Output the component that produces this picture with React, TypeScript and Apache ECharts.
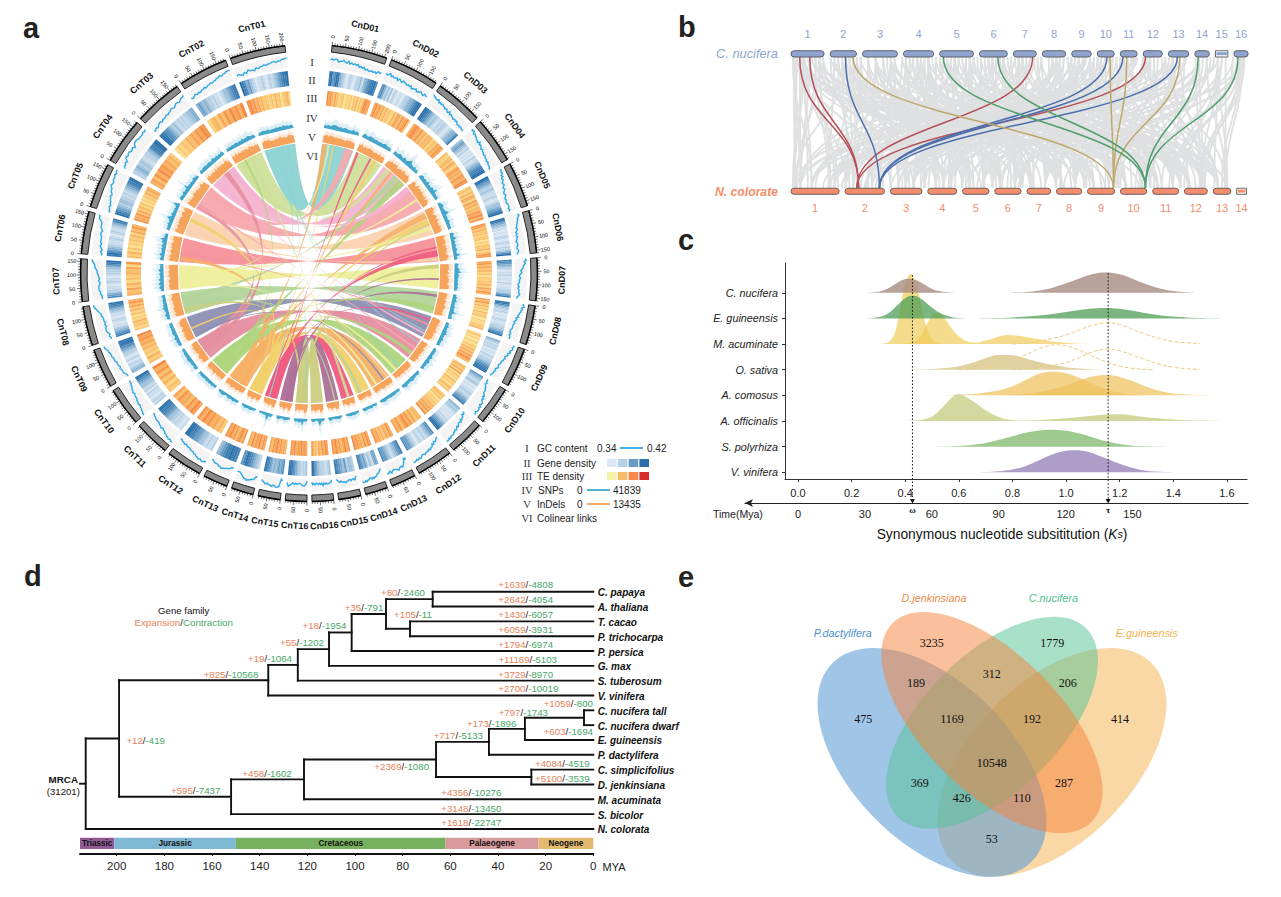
import React, { useEffect, useRef } from 'react';
import * as echarts from 'echarts';

const SANS = '"Liberation Sans", Arial, sans-serif';
const SERIF = '"Liberation Serif", serif';

// ---------- panel a data ----------
const chromLengths = [209, 187, 182, 173, 169, 160, 160, 148, 148, 145, 133, 136, 93, 84, 84, 81];
const geneD = ['8967985432123212334245678897','6753424132122123345567899','9987654343223233212345568','4565432312121322345678899','9976543343222321234456789','9865432212123212321323579','8765432122312213212233468','9875432321212321223345679','5432323212213223345678899','6543234212122332345678','5434321212123234567899','7654323223212345667','8765432345667','5652342465678','3443645678','432233345689'];
const geneT = ['9875643212232123234567889','5654543323221234456788','9987765434323232334455','3345434322334578899','9876543443323234567889','8976543222321232234578','7653322123221233345789','8765432212321223456789','4543232132123345678999','3232122313234456789','2212232334456778899','3223234456678899','7889887654','2345678976','7656545456789','4332334567899'];
const teD = ['9786575434523435254635368977','7968574645336477586794','6897685746563547687','5435647536867587698','4536476385746587968','8756453452435463587','6857463524354637586','7584635263541423546','3524143253647586975','5647382534263524635','4635243546576859','5647586975867','6857465768','7968576879','8697586978','7968573658'];
const teT = ['8978675645435364524563','3564758697869','2435465768798','6758697867564','8768574635243546576','5463524354637586','6574635465738','4354634253647586','5463546576879','4536475869','7968576857','4657687968','8697586978','7869786957','5768697857','6879786978'];
const gcD = ['676775667657565656454534334343545','656756556465465545453445344543544','988778676766565464544343432323222','989787766575654544343332322211','99897867656545433432322333232','8987766554543434332333223322','8978766545433433322323334322','8897877665645434333322232333','9989878676565544433432322211','1112123344456576788798999899','1121334354456567677888898999','1123243556566676678787888','1213567667877666786778','12344566767667787887','1243343344544434321','1334434353434334342'];
const gcT = ['23213243324344545566566778','32343434454556566778788999','22323443444545566567767889','4556578788778689998888989','1223233445456678778889899','1121232333344345556889','1112233322323344566789','1121233323233344567899','1123334344455566677899','9988776766555454433222','9989887766565544443322','7788787766555444343322','223445565544432','3356677877654333','217887787767654','145543343434563'];
const snpD = ['43434554343443335343','35434544343343454343','44345434534684435343','34534436343554834343','34553445843434534343','45347344353454348343','54346483544343443534','43544634345354834353','34353435463434534343','33434334533454343343','33433343544334345434','33334343334433','332433343','233434332','234332343','334932343'];
const snpT = ['33443433334343534343','43434344343534454343','34344434433543434353','34433534383434335434','43435345843534343483','45346343535436483434','43553643634353463435','34354334463534343343','34344354334443434343','34433434354434343333','33334334334333434334','33343343234433','233433432','243933323','233432343','333835343'];
const indelD = ['77868776767665767665','76857667766566575665','66786878567769676855','78857968778676858765','88978578869768697886','99789896979879689978','98989789697989879998','88979698878998787887','78887968778967878766','67766586767576685766','56675766567565666465','5665755666456566','5665465665','4765576547','5786576564','6795668567'];
const indelT = ['77878665767867668877','78696877878769786877','87968786969787878967','89797868987978689778','89978979898978997898','99899789979899879898','98999899879989988998','88979889787978898787','77887978688767878765','66766877566767686665','66665766568666576665','6566567566756566','5664675664','5875675654','4785586564','6895657568'];

const romanLabels = ['I', 'II', 'III', 'IV', 'V', 'VI'];
const genePalette = ['#e9f0f7','#dbe7f2','#c9dcec','#b5cfe4','#9dc0db','#83afd1','#669cc5','#4e8bbb','#3b7cb1','#2a6fab'];
const tePalette = ['#f8f3b2','#f9eca0','#fae08f','#fad681','#f9cb76','#f9c06c','#f8b262','#f7a558','#f6974e','#f38a45'];
const linkColors = ['#8dd3d3','#cfe09b','#f5b3d1','#f7a8ae','#fbd2b0','#f6919b','#eef09c','#b2d59b','#8f8fb3','#e58ea0','#aed57d','#f6b066','#f1d06a','#ef5b7f','#ad6f97','#cbcd7e'];
const extraLinks: [string, number, number, string, number, number][] = [
  ['T12',90,125,'D01',0,30],['T07',60,74,'D01',38,50],['T13',30,44,'D01',70,80],['T04',110,165,'D01',150,205],
  ['T14',10,24,'D02',5,20],['T02',20,50,'D03',20,50],['T11',60,105,'D03',130,178],['T08',95,125,'D03',90,125],
  ['T03',140,178,'D04',0,38],['T12',70,110,'D05',15,55],['T13',50,80,'D05',60,90],['T07',120,140,'D05',110,135],
  ['T14',40,56,'D06',60,72],['T05',20,50,'D06',130,155],['T14',60,82,'D06',85,125],['T16',20,50,'D07',0,25],
  ['T15',30,48,'D08',20,36],['T10',50,95,'T03',100,135],['T10',100,135,'T04',10,40],['T11',95,125,'D08',100,135],
  ['T01',5,13,'D09',100,108],['T01',60,68,'D10',20,28],['T01',90,97,'D11',60,67],['T01',120,128,'T14',50,58],
  ['T01',150,157,'T16',10,17],['T12',20,55,'T06',10,35],['T13',10,32,'T05',95,120],['T07',10,24,'D11',85,102],
  ['T07',30,44,'D12',95,110],['T08',40,62,'D13',55,75],['T11',30,52,'D10',95,120],['T02',100,122,'D14',25,45],
  ['T06',50,64,'D09',50,64],['T09',10,22,'D12',40,52],['T14',70,80,'D02',100,112],['T16',50,70,'T08',15,35],
  ['T03',30,44,'D09',115,130],['T15',10,22,'D07',90,102],['T13',60,78,'D02',130,150],['T12',30,48,'D03',55,72],
  ['T07',100,116,'D04',100,116],['T14',20,34,'D09',20,32],['T16',10,20,'D05',90,102],['T11',10,24,'T02',60,74],
  ['T04',20,34,'D10',60,74],['T05',60,72,'D12',10,22],['T08',70,82,'D15',20,30],['T13',70,82,'T09',60,72],
];

// ---------- panel b data (positions along the strip) ----------
const topChromLen = [88, 70, 93, 80, 90, 74, 61, 62, 52, 45, 45, 51, 54, 39, 33, 38];
const botChromLen = [128, 105, 84, 77, 70, 70, 63, 67, 72, 70, 69, 61, 47, 26];
const grayFans: number[][] = [
  [320, 305, 318, 345, 360, 620, 700, 1080], [350, 300, 330, 845, 930, 1010, 1215], [395, 360, 410, 1120, 1190, 1290, 1380, 1430],
  [460, 420, 450, 480, 520, 560, 640, 910], [495, 720, 860, 1000, 1075, 1150], [530, 1130, 1200, 1250, 1330, 440, 600, 1040],
  [580, 500, 540, 570, 610, 650, 1240], [620, 700, 770, 830, 900, 1050, 1180, 1345],
  [680, 330, 420, 550, 600, 640, 680, 1010], [715, 710, 760, 850, 960, 1070, 1150, 1290],
  [770, 360, 450, 540, 620, 720, 1160], [805, 770, 800, 880, 990, 1100, 1300, 1420],
  [855, 340, 470, 560, 660, 760, 1205], [890, 810, 860, 900, 1020, 1110, 1340, 1470],
  [935, 380, 500, 600, 730, 820, 1120], [970, 900, 950, 1000, 1060, 1240, 1380, 1500],
  [1015, 310, 440, 520, 640, 750, 880], [1050, 860, 960, 1010, 1050, 1170, 1290, 1440],
  [1100, 300, 410, 570, 670, 780, 950], [1140, 890, 1000, 1090, 1130, 1270, 1320, 1410],
  [1185, 350, 480, 610, 710, 850, 1030], [1225, 940, 1070, 1160, 1200, 1310, 1390, 1480],
  [1270, 320, 430, 590, 690, 800, 1000], [1310, 920, 1040, 1180, 1260, 1340, 1440, 1490],
  [1355, 370, 520, 630, 740, 870, 990], [1385, 1030, 1110, 1230, 1330, 1370, 1430, 1500],
  [1430, 400, 560, 780, 900, 1060, 1240], [1450, 1290, 1400, 1450, 1495, 700],
  [305, 302, 310, 325, 440, 890], [410, 370, 460, 760, 1040, 1250], [440, 330, 500, 820, 1100],
  [510, 400, 470, 590, 930, 1310], [600, 380, 480, 660, 990, 1210], [650, 420, 600, 740, 1020],
  [700, 500, 650, 780, 940, 1180], [750, 450, 630, 800, 1060], [830, 520, 690, 840, 1110],
  [905, 560, 710, 920, 1230], [1000, 600, 790, 980, 1150], [1075, 640, 820, 1040, 1380],
  [1165, 680, 870, 1100, 1260], [1250, 730, 910, 1140, 1400], [1330, 770, 960, 1200, 1470], [1395, 830, 1000, 1280, 1490],
];
const grayFansTop: number[][] = [
  [330, 300, 340, 420, 560, 800, 1100], [370, 310, 400, 620, 890, 1220], [430, 450, 540, 700, 1000], [460, 470, 610, 850, 1130],
  [520, 500, 600, 780, 1050], [560, 560, 690, 930, 1270], [630, 440, 640, 810, 1090], [660, 680, 760, 960, 1330],
  [730, 360, 590, 780, 1160], [770, 750, 840, 1040, 1390], [830, 400, 660, 880, 1230], [860, 830, 910, 1120, 1350],
  [910, 480, 730, 940, 1310], [1000, 350, 620, 870, 1140], [1060, 520, 790, 1010, 1280], [1090, 430, 700, 1080, 1370],
  [1130, 310, 580, 910, 1200], [1190, 640, 850, 1130, 1430], [1250, 380, 720, 1050, 1260], [1310, 490, 830, 1170, 1350],
  [1380, 560, 900, 1210, 1390], [1430, 1280, 1340, 1420, 1455], [1490, 760, 1020, 1300, 1380, 1440],
];
const redLinks = [[318, 475], [345, 475], [937, 470], [1237, 470]];
const blueLinks = [[440, 530], [1135, 530], [1177, 530], [1322, 530]];
const tanLinks = [[460, 1152], [1143, 1152], [1187, 1152], [1328, 1152]];
const greenLinks = [[700, 1237], [845, 1237], [1377, 1237], [1483, 1237]];

// ---------- panel c data ----------
const ridgeNames = ['V. vinifera', 'S. polyrhiza', 'A. officinalis', 'A. comosus', 'O. sativa', 'M. acuminate', 'E. guineensis', 'C. nucifera'];
const ksTicks = [0, 0.2, 0.4, 0.6, 0.8, 1.0, 1.2, 1.4, 1.6];
const myaTicks = [0, 30, 60, 90, 120, 150];
const nuc1 = [[.25,0],[.29,.03],[.32,.1],[.35,.25],[.38,.45],[.41,.55],[.44,.5],[.47,.33],[.5,.15],[.53,.06],[.56,.02],[.59,0]];
const nuc2 = [[.8,.01],[.85,.03],[.9,.09],[.95,.2],[1,.37],[1.05,.56],[1.1,.73],[1.15,.79],[1.2,.72],[1.25,.54],[1.3,.33],[1.35,.17],[1.4,.07],[1.45,.02],[1.5,0]];
const gui1 = [[.25,0],[.28,.02],[.31,.07],[.34,.22],[.37,.5],[.4,.79],[.43,.88],[.46,.76],[.49,.5],[.52,.27],[.55,.12],[.58,.04],[.61,.01],[.64,0]];
const gui2 = [[.65,0],[.7,.01],[.75,.02],[.8,.04],[.85,.07],[.9,.11],[.95,.17],[1,.25],[1.05,.33],[1.1,.39],[1.15,.41],[1.2,.38],[1.25,.3],[1.3,.2],[1.35,.12],[1.4,.07],[1.45,.04],[1.5,.02],[1.55,.01],[1.6,0]];
const aca1 = [[.28,0],[.32,.02],[.34,.1],[.36,.4],[.38,1.3],[.4,2.35],[.42,2.73],[.44,2.4],[.46,1.5],[.48,.65],[.5,.2],[.52,.05],[.54,.01],[.56,0]];
const aca2 = [[.38,0],[.42,.05],[.44,.15],[.46,.35],[.48,.75],[.5,1.1],[.52,1.23],[.54,1.1],[.56,.8],[.58,.52],[.6,.3],[.62,.15],[.64,.08],[.66,.06],[.7,.14],[.74,.27],[.78,.35],[.82,.32],[.86,.26],[.9,.19],[.94,.12],[.98,.07],[1.02,.03],[1.06,.01],[1.1,0]];
const aca3 = [[.8,0],[.85,.04],[.9,.12],[.95,.22],[1,.36],[1.05,.55],[1.1,.74],[1.155,.83],[1.2,.76],[1.25,.57],[1.3,.37],[1.35,.21],[1.4,.1],[1.45,.05],[1.5,.02]];
const osa1 = [[.4,0],[.45,.01],[.5,.03],[.55,.07],[.6,.14],[.65,.27],[.7,.45],[.75,.57],[.8,.56],[.85,.44],[.9,.3],[.95,.19],[1,.1],[1.05,.05],[1.1,.02],[1.15,0]];
const osa2 = [[.6,0],[.65,.02],[.7,.07],[.75,.17],[.8,.33],[.85,.58],[.9,.82],[.96,.97],[1,.93],[1.05,.76],[1.1,.52],[1.15,.3],[1.2,.14],[1.25,.05],[1.3,.01],[1.33,0]];
const osa3 = [[.8,0],[.85,.03],[.9,.08],[.95,.16],[1,.28],[1.05,.48],[1.1,.7],[1.155,.8],[1.2,.74],[1.25,.56],[1.3,.38],[1.35,.21],[1.4,.1],[1.45,.04],[1.5,.01]];
const com1 = [[.52,0],[.6,.02],[.65,.05],[.7,.11],[.75,.2],[.8,.36],[.85,.6],[.9,.84],[.95,.92],[1,.86],[1.05,.68],[1.1,.44],[1.15,.24],[1.2,.1],[1.25,.03],[1.3,0]];
const com2 = [[.75,0],[.8,.02],[.85,.06],[.9,.13],[.95,.24],[1,.39],[1.05,.58],[1.1,.74],[1.15,.79],[1.2,.72],[1.25,.55],[1.3,.34],[1.35,.17],[1.4,.07],[1.45,.03],[1.5,.01],[1.58,0]];
const off1 = [[.38,0],[.42,.01],[.46,.05],[.5,.18],[.54,.55],[.58,.97],[.6,1.04],[.62,.98],[.66,.72],[.7,.42],[.74,.2],[.78,.07],[.82,.02],[.86,0]];
const off2 = [[.8,0],[.85,.02],[.9,.04],[.95,.07],[1,.11],[1.05,.16],[1.1,.21],[1.15,.25],[1.2,.26],[1.25,.22],[1.3,.15],[1.35,.1],[1.4,.06],[1.45,.03],[1.5,.02],[1.6,0]];
const spo1 = [[.47,0],[.55,.01],[.6,.03],[.65,.07],[.7,.14],[.75,.27],[.8,.41],[.85,.54],[.9,.63],[.94,.66],[1,.62],[1.05,.51],[1.1,.36],[1.15,.21],[1.2,.1],[1.25,.04],[1.3,.02],[1.4,0]];
const vin1 = [[.63,0],[.7,.01],[.75,.04],[.8,.11],[.85,.25],[.9,.47],[.95,.7],[1,.84],[1.03,.86],[1.08,.8],[1.12,.66],[1.16,.5],[1.2,.33],[1.25,.17],[1.3,.06],[1.35,.02],[1.43,0]];
const omegaKs = 0.427;
const tauKs = 1.157;

// ---------- panel d data ----------
const speciesTree: any = [213,
  [199,
    [136.4, [124, [110.9, [101.4, [87, [67.4, 'C. papaya', 'A. thaliana'], [76.9, 'T. cacao', 'P. trichocarpa']], 'P. persica'], 'G. max'], 'S. tuberosum'], 'V. vinifera'],
    [152, [121.4, [66, [43.8, [28.7, [3.9, 'C. nucifera tall', 'C. nucifera dwarf'], 'E. guineensis'], 'P. dactylifera'], [26, 'C. simplicifolius', 'D. jenkinsiana']], 'M. acuminata'], 'S. bicolor']],
  'N. colorata'];
const eraNames = ['Triassic', 'Jurassic', 'Cretaceous', 'Palaeogene', 'Neogene'];
const eraBounds = [215.4, 201, 150, 62, 23, 0];
const eraColors = ['#925b96', '#7fb8d2', '#77b15f', '#d89a9c', '#e2b96d'];
const myaAxisTicks = [0, 20, 40, 60, 80, 100, 120, 140, 160, 180, 200];
const familyLabels: [string, string, number, number][] = [
  ['+1639','-4808',525.7,584.3],['+2642','-4054',525.7,599.7],['+1430','-6057',525.7,614.7],['+6059','-3931',525.7,629.7],
  ['+1794','-6974',525.7,644.7],['+11169','-5103',527.7,659.7],['+3729','-8970',525.7,674.7],['+2700','-10019',528.3,688.7],
  ['+1059','-800',568.3,703.7],['+797','-1743',523.3,712.7],['+173','-1896',491.7,723.7],['+603','-1694',568.3,731.7],
  ['+717','-5133',458.3,735.7],['+2369','-1080',401.7,766.3],['+4084','-4519',562.3,763.7],['+5100','-3539',562.3,778.3],
  ['+4356','-10276',471.3,792.7],['+3148','-13450',471.3,808],['+1618','-22747',471.3,822.7],['+80','-2460',403,592.7],
  ['+35','-791',364,607.7],['+105','-11',413,614.7],['+18','-1954',324.5,625.7],['+55','-1202',302,642.7],
  ['+19','-1064',270,658.7],['+825','-10568',231,674.7],['+12','-419',145.7,740.7],['+458','-1602',267,773.7],['+595','-7437',195.7,790],
];

// ---------- panel e data ----------
const vennSets = [
  { name: 'P.dactylifera', color: '#5b9bd5', cx: 426, cy: 562, a: 422, b: 240, rot: 45, op: 0.58 },
  { name: 'D.jenkinsiana', color: '#f5813a', cx: 606, cy: 443, a: 422, b: 205, rot: 45, op: 0.5 },
  { name: 'C.nucifera', color: '#53c196', cx: 606, cy: 443, a: 400, b: 205, rot: -45, op: 0.5 },
  { name: 'E.guineensis', color: '#f6b24e', cx: 786, cy: 562, a: 422, b: 240, rot: -45, op: 0.5 },
];
const vennDrawOrder = [3, 0, 2, 1];
const vennCounts: [string, number, number][] = [
  ['3235',931.7,642.7],['1779',1052.3,642.7],['189',916,682.7],['312',991.7,674.3],['206',1067.7,682.7],['475',863.3,718.7],
  ['1169',952,718.7],['192',1032,718.7],['414',1120,718.7],['10548',991.7,762.7],['369',919.7,782.7],['287',1064,782.7],
  ['426',961.7,798.3],['110',1022,798.3],['53',991.7,838.7],
];

// ---------- layout helpers ----------
const K = 0.0675, START = 5.8, GAP = 1.25;
type Chrom = { name: string; len: number; a0: number; a1: number; gene: string; te: string; gc: string; snp: string; indel: string };
const pad = (i: number) => String(i + 1).padStart(2, '0');
const circleOrder: Chrom[] = (() => {
  const out: Chrom[] = [];
  let a = START;
  const push = (name: string, len: number, gene: string, te: string, gc: string, snp: string, indel: string) => {
    out.push({ name, len, a0: a, a1: a + len * K, gene, te, gc, snp, indel });
    a += len * K + GAP;
  };
  chromLengths.forEach((l, i) => push('CnD' + pad(i), l, geneD[i], teD[i], gcD[i], snpD[i], indelD[i]));
  for (let i = 15; i >= 0; i--) push('CnT' + pad(i), chromLengths[i], geneT[i], teT[i], gcT[i], snpT[i], indelT[i]);
  return out;
})();
const findChrom = (s: string) => circleOrder.find((c) => c.name === 'Cn' + s) as Chrom;
const rad = (a: number) => ((a - 90) * Math.PI) / 180;

function custom(axes: any, rows: any[], draw: (row: any, api: any) => any, extra: any = {}) {
  return {
    type: 'custom', silent: true, ...axes, z: 2, ...extra,
    data: rows.map((_, i) => [i, 0]),
    renderItem: (params: any, api: any) => draw(rows[params.dataIndex], api),
  };
}
const POLAR = { coordinateSystem: 'polar', polarIndex: 0 };
const cart = (i: number) => ({ coordinateSystem: 'cartesian2d', xAxisIndex: i, yAxisIndex: i });

function sector(api: any, r0: number, r1: number, a0: number, a1: number, style: any) {
  const c = api.coord([r1, 0]);
  const c0 = api.coord([r0, 0]);
  const o = api.coord([0, 0]);
  return {
    type: 'sector',
    shape: { cx: o[0], cy: o[1], r: c[2], r0: c0[2], startAngle: rad(a0), endAngle: rad(a1), clockwise: true },
    style,
  };
}
function txt(x: number, y: number, rotation: number, text: string, s: any) {
  return {
    type: 'text', x, y, rotation,
    style: { text, x: 0, y: 0, fontFamily: SANS, align: 'center', verticalAlign: 'middle', textAlign: 'center', textVerticalAlign: 'middle', fill: '#111', ...s },
  };
}

function heatSeries(field: 'gene' | 'te', palette: string[], r0: number, r1: number) {
  const rows: any[] = [];
  circleOrder.forEach((c) => {
    const n = c[field].length;
    for (let i = 0; i < n; i++) rows.push({ c, i, n, d: +c[field][i] });
  });
  return custom(POLAR, rows, (row, api) => {
    const span = row.c.a1 - row.c.a0;
    const a0 = row.c.a0 + (span * row.i) / row.n;
    const a1 = row.c.a0 + (span * (row.i + 1)) / row.n + (row.i < row.n - 1 ? 0.04 : 0);
    return sector(api, r0, r1, a0, a1, { fill: palette[row.d] });
  });
}
function profileSeries(field: 'snp' | 'indel', r0: number, solidK: number, paleK: number, color: string, paleOp: number) {
  return custom(POLAR, circleOrder, (c: Chrom, api) => {
    const s: string = c[field];
    const span = c.a1 - c.a0;
    const build = (k: number) => {
      const pts: number[][] = [api.coord([r0, c.a0]).slice(0, 2)];
      for (let i = 0; i < s.length; i++) pts.push(api.coord([r0 + +s[i] * k, c.a0 + (span * (i + 0.5)) / s.length]).slice(0, 2));
      pts.push(api.coord([r0, c.a1]).slice(0, 2));
      return pts;
    };
    return {
      type: 'group',
      children: [
        { type: 'polygon', shape: { points: build(paleK) }, style: { fill: color, opacity: paleOp } },
        { type: 'polygon', shape: { points: build(solidK) }, style: { fill: color } },
      ],
    };
  });
}
function ribbonPath(api: any, r: number, a0: number, a1: number, b0: number, b1: number) {
  const p = (a: number) => api.coord([r, a]);
  const o = api.coord([0, 0]);
  const pr = p(a0)[2];
  const f = (q: number[]) => q[0].toFixed(1) + ' ' + q[1].toFixed(1);
  const large = (x: number, y: number) => (Math.abs(y - x) > 180 ? 1 : 0);
  return (
    'M' + f(p(a0)) + ' A' + pr + ' ' + pr + ' 0 ' + large(a0, a1) + ' 1 ' + f(p(a1)) +
    ' Q' + f(o) + ' ' + f(p(b1)) + ' A' + pr + ' ' + pr + ' 0 ' + large(b0, b1) + ' 0 ' + f(p(b0)) +
    ' Q' + f(o) + ' ' + f(p(a0)) + ' Z'
  );
}

function buildOption() {
  const series: any[] = [];

  // ---- a: circos ----
  const mainLinks = chromLengths.map((_, i) => ({ t: findChrom('T' + pad(i)), d: findChrom('D' + pad(i)), color: linkColors[i] }));
  series.push(custom(POLAR, mainLinks, (l, api) => ({
    type: 'path',
    shape: { pathData: ribbonPath(api, 130, l.t.a0, l.t.a1, l.d.a0, l.d.a1) },
    style: { fill: l.color, opacity: 0.95 },
  })));
  series.push(custom(POLAR, extraLinks, (l, api) => {
    const A = findChrom(l[0]), B = findChrom(l[3]);
    const colorIdx = +l[0].slice(1) - 1;
    return {
      type: 'path',
      shape: { pathData: ribbonPath(api, 130, A.a0 + l[1] * K, A.a0 + l[2] * K, B.a0 + l[4] * K, B.a0 + l[5] * K) },
      style: { fill: linkColors[colorIdx], opacity: 0.9 },
    };
  }));
  series.push(profileSeries('indel', 131.5, 1.0, 1.5, '#f6a35c', 0.25));
  series.push(profileSeries('snp', 146, 0.85, 2.0, '#45a6cb', 0.18));
  series.push(heatSeries('te', tePalette, 168, 183));
  series.push(heatSeries('gene', genePalette, 188, 203));
  series.push(custom(POLAR, circleOrder, (c: Chrom, api) => {
    const s = c.gc;
    const span = c.a1 - c.a0;
    const points = s.split('').map((d, i) => api.coord([207 + +d * 1.2, c.a0 + (span * i) / (s.length - 1)]).slice(0, 2));
    return {
      type: 'group',
      children: [
        sector(api, 206, 218, c.a0, c.a1, { fill: '#f4f4f4' }),
        { type: 'polyline', shape: { points }, style: { stroke: '#2fa9e4', lineWidth: 1.4, fill: 'none' } },
      ],
    };
  }));
  series.push(custom(POLAR, circleOrder, (c: Chrom, api) => {
    const o = api.coord([0, 0]);
    const rOut = api.coord([228.5, 0])[2];
    const children: any[] = [
      sector(api, 222, 228.5, c.a0, c.a1, { fill: '#8a8a8a', stroke: '#111', lineWidth: 0.9 }),
      { type: 'arc', shape: { cx: o[0], cy: o[1], r: rOut, startAngle: rad(c.a0), endAngle: rad(c.a1), clockwise: true }, style: { stroke: '#000', lineWidth: 1.4, fill: 'none' } },
    ];
    for (let mb = 0; mb <= c.len; mb += 10) {
      const a = c.a0 + mb * K;
      const major = mb % 50 === 0;
      const p0 = api.coord([228.5, a]), p1 = api.coord([major ? 232.5 : 231, a]);
      children.push({ type: 'line', shape: { x1: p0[0], y1: p0[1], x2: p1[0], y2: p1[1] }, style: { stroke: '#111', lineWidth: 0.6 } });
      if (major) {
        const lp = api.coord([237.5, a]);
        const deg = a > 180 ? 270 - a : 90 - a;
        children.push(txt(lp[0], lp[1], (deg * Math.PI) / 180, String(mb), { fontSize: 5.4, fill: '#000' }));
      }
    }
    const mid = (c.a0 + c.a1) / 2;
    const np = api.coord([253, mid]);
    const deg = mid > 90 && mid < 265 ? 180 - mid : -mid;
    children.push(txt(np[0], np[1], (deg * Math.PI) / 180, c.name, { fontSize: 9, fontWeight: 'bold', fill: '#111' }));
    return { type: 'group', children };
  }));

  // ---- b: synteny ----
  const layoutChroms = (lens: number[], gap: number) => {
    let x = 295;
    return lens.map((len, i) => {
      const o = { x0: x, x1: x + len, i };
      x += len + gap;
      return o;
    });
  };
  const topChroms = layoutChroms(topChromLen, 16);
  const botChroms = layoutChroms(botChromLen, 15.5);
  const grayRows: number[][] = [];
  grayFans.forEach((f) => f.slice(1).forEach((t) => grayRows.push([t, f[0]])));
  grayFansTop.forEach((f) => f.slice(1).forEach((b) => grayRows.push([f[0], b])));
  const curve = (api: any, t: number, b: number, stroke: string, lineWidth: number) => {
    const p0 = api.coord([t, 0]), p1 = api.coord([b, 1]);
    const my = (p0[1] + p1[1]) / 2;
    return {
      type: 'bezierCurve',
      shape: { x1: p0[0], y1: p0[1], x2: p1[0], y2: p1[1], cpx1: p0[0], cpy1: my, cpx2: p1[0], cpy2: my },
      style: { stroke, lineWidth, fill: 'none' },
    };
  };
  series.push(custom(cart(0), grayRows, (r, api) => curve(api, r[0], r[1], '#dfe0e1', 1.8)));
  [[redLinks, '#b5505a'], [blueLinks, '#4a6fae'], [tanLinks, '#bfa86c'], [greenLinks, '#4f9e6e']].forEach(([rows, col]: any) => {
    series.push(custom(cart(0), rows, (r, api) => curve(api, r[0], r[1], col, 1.5), { z: 3 }));
  });
  const chromBar = (api: any, c: any, y0: number, y1: number, fill: string, square: boolean, labelY: number) => {
    const a = api.coord([c.x0, y0]), b = api.coord([c.x1, y1]);
    const l = api.coord([(c.x0 + c.x1) / 2, labelY]);
    const h = b[1] - a[1], w = b[0] - a[0];
    return {
      type: 'group',
      children: [
        { type: 'rect', shape: { x: a[0], y: a[1], width: w, height: h, r: square ? 0 : h / 2 }, style: { fill: square ? '#fff' : fill, stroke: '#555', lineWidth: 0.9 } },
        { type: 'rect', shape: { x: a[0] + 1, y: a[1] + h * 0.22, width: w - 2, height: h * 0.5 }, style: { fill } },
        txt(l[0], l[1], 0, String(c.i + 1), { fontSize: 11, fill }),
      ],
    };
  };
  series.push(custom(cart(0), topChroms, (c, api) => chromBar(api, c, -0.048, 0, '#8fa5cf', c.i === 14, -0.175), { z: 4 }));
  series.push(custom(cart(0), botChroms, (c, api) => chromBar(api, c, 1.002, 1.048, '#f58d6b', c.i === 13, 1.155), { z: 4 }));

  // ---- c: ridges ----
  const ridge = (pts: number[][], row: number, color: string, opacity: number) => ({
    type: 'line', xAxisIndex: 1, yAxisIndex: 1, symbol: 'none', smooth: 0.4, silent: true, z: 2,
    data: pts.map(([x, h]) => [x, row + h]),
    lineStyle: { width: 0 },
    areaStyle: { color, opacity, origin: row },
  });
  const dashed = (pts: number[][], row: number) => ({
    type: 'line', xAxisIndex: 1, yAxisIndex: 1, symbol: 'none', smooth: 0.4, silent: true, z: 3,
    data: pts.map(([x, h]) => [x, row + h]),
    lineStyle: { width: 1, type: [4, 2], color: '#e8cd82' },
  });
  series.push(
    ridge(aca1, 5, '#efcb55', 0.68), ridge(aca2, 5, '#efcb55', 0.68), dashed(aca3, 5),
    ridge(nuc1, 7, '#a68b80', 0.8), ridge(nuc2, 7, '#a68b80', 0.8),
    ridge(gui1, 6, '#4f9d57', 0.75), ridge(gui2, 6, '#4f9d57', 0.75),
    ridge(osa1, 4, '#d9c688', 0.8), dashed(osa2, 4), dashed(osa3, 4),
    ridge(com1, 3, '#efc05c', 0.72), ridge(com2, 3, '#efc05c', 0.72),
    ridge(off1, 2, '#c3cb7e', 0.75), ridge(off2, 2, '#c3cb7e', 0.75),
    ridge(spo1, 1, '#86bd74', 0.8), ridge(vin1, 0, '#9a85b8', 0.8),
  );
  const vline = (x: number, top: number) => ({
    type: 'line', xAxisIndex: 1, yAxisIndex: 1, symbol: 'none', silent: true, clip: false, z: 5,
    data: [[x, top], [x, -1.08]],
    lineStyle: { width: 1, type: [1.5, 2], color: '#111' },
  });
  series.push(vline(omegaKs, 7.69), vline(tauKs, 7.76));
  series.push(custom(cart(1), [[omegaKs, 'ω'], [tauKs, 'τ']], (m, api) => {
    const p = api.coord([m[0], -1.08]);
    return {
      type: 'group',
      children: [
        { type: 'polygon', shape: { points: [[p[0] - 2.5, p[1] - 1], [p[0] + 2.5, p[1] - 1], [p[0], p[1] + 3.5]] }, style: { fill: '#111' } },
        txt(p[0], p[1] + 9.5, 0, m[1], { fontSize: 9, fontWeight: 'bold', fontFamily: SERIF }),
      ],
    };
  }, { z: 6 }));

  // ---- d: tree ----
  const segs: number[][] = [];
  const tips: { name: string; y: number }[] = [];
  let rowCounter = 0;
  const walk = (n: any): [number, number] => {
    if (typeof n === 'string') {
      const y = rowCounter++;
      tips.push({ name: n, y });
      return [0, y];
    }
    const a = walk(n[1]), b = walk(n[2]);
    segs.push([n[0], a[1], n[0], b[1]], [n[0], a[1], a[0], a[1]], [n[0], b[1], b[0], b[1]]);
    return [n[0], (a[1] + b[1]) / 2];
  };
  const root = walk(speciesTree);
  segs.push([215.4, root[1], root[0], root[1]]);
  series.push(custom(cart(3), segs, (s, api) => {
    const a = api.coord([s[0], s[1]]), b = api.coord([s[2], s[3]]);
    return { type: 'line', shape: { x1: a[0], y1: a[1], x2: b[0], y2: b[1] }, style: { stroke: '#111', lineWidth: 1.9, lineCap: 'square' } };
  }));
  series.push(custom(cart(3), tips, (t, api) => {
    const p = api.coord([0, t.y]);
    return txt(p[0] + 4.4, p[1] + 1, 0, t.name, { align: 'left', textAlign: 'left', fontSize: 10, fontWeight: 'bold', fontStyle: 'italic', fill: '#111' });
  }));
  series.push(custom(cart(3), eraNames.map((n, i) => ({ n, i })), (e, api) => {
    const a = api.coord([eraBounds[e.i], 16.59]), b = api.coord([eraBounds[e.i + 1], 17.35]);
    return {
      type: 'group',
      children: [
        { type: 'rect', shape: { x: a[0], y: a[1], width: b[0] - a[0], height: b[1] - a[1] }, style: { fill: eraColors[e.i] } },
        txt((a[0] + b[0]) / 2, (a[1] + b[1]) / 2, 0, e.n, { fontSize: 8.2, fontWeight: 'bold', fill: '#111' }),
      ],
    };
  }));

  // ---- e: venn ----
  series.push(custom(cart(4), vennDrawOrder.map((i) => vennSets[i]), (s, api) => {
    const c = api.coord([s.cx, s.cy]);
    const e = api.coord([s.cx + s.a, s.cy]);
    const f = api.coord([s.cx, s.cy + s.b]);
    return {
      type: 'ellipse', x: c[0], y: c[1], rotation: (-s.rot * Math.PI) / 180,
      shape: { cx: 0, cy: 0, rx: e[0] - c[0], ry: f[1] - c[1] },
      style: { fill: s.color, opacity: s.op },
    };
  }));

  // ---- free text ----
  const gt = (text: string, x: number, y: number, s: any = {}) => ({
    type: 'text', x, y, z: 20, silent: true,
    style: { text, fontFamily: SANS, fontSize: 10, fill: '#222', textAlign: 'left', textVerticalAlign: 'middle', ...s },
  });
  const center = { textAlign: 'center' };
  const right = { textAlign: 'right' };
  const graphic: any[] = [];
  [['a', 23, 28], ['b', 678, 27], ['c', 678, 240], ['d', 24, 576], ['e', 678, 577]].forEach(([t, x, y]: any) =>
    graphic.push(gt(t, x, y, { fontSize: 29, fontWeight: 'bold', fill: '#222' })));
  romanLabels.forEach((t, i) => graphic.push(gt(t, 312, [62, 80, 98, 118, 137, 156][i], { fontFamily: SERIF, fontSize: 11, fill: '#333', ...center })));
  // legend of panel a
  const legY = [448, 463, 476, 490, 504, 518];
  const legNames = ['GC content', 'Gene density', 'TE density', 'SNPs', 'InDels', 'Colinear links'];
  romanLabels.forEach((t, i) => {
    graphic.push(gt(t, 527, legY[i], { fontFamily: SERIF, fontSize: 10.5, fill: '#333', ...center }));
    graphic.push(gt(legNames[i], i === 3 ? 538 : 537, legY[i], { fontSize: 10, fill: '#222' }));
  });
  graphic.push(gt('0.34', 597, legY[0], { fontSize: 10 }), gt('0.42', 647, legY[0], { fontSize: 10 }));
  graphic.push(gt('0', 577, legY[3], { fontSize: 10 }), gt('41839', 613, legY[3], { fontSize: 10 }));
  graphic.push(gt('0', 577, legY[4], { fontSize: 10 }), gt('13435', 613, legY[4], { fontSize: 10 }));
  [[620, 643, legY[0], '#2fa9e4'], [587, 610, legY[3], '#45a6cb'], [587, 610, legY[4], '#f6a35c']].forEach(([x1, x2, y, c]: any) =>
    graphic.push({ type: 'line', shape: { x1, y1: y, x2, y2: y }, style: { stroke: c, lineWidth: 1.8 }, z: 20, silent: true }));
  [genePalette[1], genePalette[3], genePalette[6], genePalette[9]].forEach((c, i) =>
    graphic.push({ type: 'rect', shape: { x: 607 + i * 10.8, y: 459, width: 9.6, height: 8 }, style: { fill: c }, z: 20, silent: true }));
  ['#f5f0aa', '#f7bd6b', '#f5884d', '#d92b2b'].forEach((c, i) =>
    graphic.push({ type: 'rect', shape: { x: 607 + i * 10.8, y: 472, width: 9.6, height: 8 }, style: { fill: c }, z: 20, silent: true }));
  // panel b labels
  graphic.push(gt('C. nucifera', 778, 53.5, { fontSize: 12.8, fontStyle: 'italic', fill: '#8fa5cf', ...right }));
  graphic.push(gt('N. colorate', 778, 192, { fontSize: 12.2, fontStyle: 'italic', fontWeight: 'bold', fill: '#f58d6b', ...right }));
  // panel c labels
  graphic.push(gt('Time(Mya)', 713, 514, { fontSize: 10.5 }));
  graphic.push({
    type: 'text', x: 1002, y: 534, z: 20, silent: true,
    style: {
      text: '{a|Synonymous nucleotide subsititution (}{i|K}{s|s}{a|)}',
      textAlign: 'center', textVerticalAlign: 'middle', fontFamily: SANS, fontSize: 13.8, fill: '#111',
      rich: {
        a: { fontFamily: SANS, fontSize: 13.8, fill: '#111' },
        i: { fontFamily: SANS, fontSize: 13.8, fontStyle: 'italic', fill: '#111' },
        s: { fontFamily: SANS, fontSize: 10.5, fontStyle: 'italic', fill: '#111' },
      },
    },
  });
  // panel d labels
  const bi = { fontFamily: SANS, fontSize: 9.7 };
  familyLabels.forEach(([a, b, x, y]) =>
    graphic.push({
      type: 'text', x, y, z: 20, silent: true,
      style: {
        text: `{e|${a}}{k|/}{c|${b}}`, textAlign: 'center', textVerticalAlign: 'middle', ...bi, fill: '#222',
        rich: { e: { ...bi, fill: '#e8825a' }, k: { ...bi, fill: '#222' }, c: { ...bi, fill: '#47a868' } },
      },
    }));
  graphic.push(gt('Gene family', 183.7, 610.7, { fontSize: 9.6, fill: '#111', ...center }));
  graphic.push({
    type: 'text', x: 183.7, y: 622.7, z: 20, silent: true,
    style: {
      text: '{e|Expansion}{k|/}{c|Contraction}', textAlign: 'center', textVerticalAlign: 'middle', fontFamily: SANS, fontSize: 9.8, fill: '#222',
      rich: { e: { fontFamily: SANS, fontSize: 9.8, fill: '#e8825a' }, k: { fontFamily: SANS, fontSize: 9.8, fill: '#222' }, c: { fontFamily: SANS, fontSize: 9.8, fill: '#47a868' } },
    },
  });
  graphic.push(gt('MRCA', 63.3, 779.7, { fontSize: 9.8, fontWeight: 'bold', fill: '#111', ...center }));
  graphic.push(gt('(31201)', 63.3, 791, { fontSize: 9.6, fill: '#111', ...center }));
  graphic.push(gt('MYA', 602.5, 867, { fontSize: 11, fill: '#222' }));
  // panel e labels
  const vennTitlePos = [[842.7, 633.3], [934, 597.7], [1053.3, 597.7], [1146.7, 633.3]];
  const vennTitleCol = ['#4a90d0', '#f08a4b', '#4fc08d', '#f6b04a'];
  vennSets.forEach((s, i) =>
    graphic.push(gt(s.name, vennTitlePos[i][0], vennTitlePos[i][1], { fontSize: 10.8, fontStyle: 'italic', fill: vennTitleCol[i], ...center })));
  vennCounts.forEach(([t, x, y]) => graphic.push(gt(t, x, y, { fontFamily: SERIF, fontSize: 12, fill: '#111', ...center })));

  const hiddenX = (gridIndex: number, min: number, max: number) => ({ type: 'value', gridIndex, min, max, show: false });
  const hiddenY = (gridIndex: number, min: number, max: number, inverse = true) => ({ type: 'value', gridIndex, min, max, inverse, show: false });
  return {
    animation: false,
    backgroundColor: '#fff',
    tooltip: { show: false },
    polar: { center: [309, 273], radius: 260 },
    angleAxis: { min: 0, max: 360, startAngle: 90, clockwise: true, show: false },
    radiusAxis: { min: 0, max: 260, show: false },
    grid: [
      { left: 680, top: 57, width: 590, height: 131 },
      { left: 785, top: 263, width: 462, height: 216 },
      { left: 745, top: 502, width: 503, height: 1 },
      { left: 80, top: 591.7, width: 513.3, height: 262.3 },
      { left: 790, top: 575, width: 400, height: 310 },
    ],
    xAxis: [
      hiddenX(0, 0, 1568),
      {
        type: 'value', gridIndex: 1, min: -0.0485, max: 1.675, splitLine: { show: false },
        axisLine: { onZero: false, lineStyle: { color: '#333', width: 1 } },
        axisTick: { customValues: ksTicks, length: 3, lineStyle: { color: '#333' } },
        axisLabel: { customValues: ksTicks, formatter: (v: number) => v.toFixed(1), color: '#222', fontSize: 11, fontFamily: SANS, margin: 8 },
      },
      {
        type: 'value', gridIndex: 2, min: -23.8, max: 201.8, splitLine: { show: false },
        axisLine: { onZero: false, symbol: ['arrow', 'none'], symbolSize: [6, 8], lineStyle: { color: '#222', width: 1.2 } },
        axisTick: { show: false },
        axisLabel: { customValues: myaTicks, color: '#222', fontSize: 11, fontFamily: SANS, margin: 5 },
      },
      {
        type: 'value', gridIndex: 3, min: 0, max: 215.4, inverse: true, splitLine: { show: false },
        axisLine: { onZero: false, lineStyle: { color: '#111', width: 1.9 } },
        axisTick: { customValues: myaAxisTicks, length: 2, lineStyle: { color: '#111' } },
        axisLabel: { customValues: myaAxisTicks, color: '#222', fontSize: 11.5, fontFamily: SANS, margin: 6 },
      },
      hiddenX(4, 0, 1200),
    ],
    yAxis: [
      hiddenY(0, 0, 1),
      {
        type: 'value', gridIndex: 1, min: -0.26, max: 8.16, splitLine: { show: false },
        axisLine: { show: true, onZero: false, lineStyle: { color: '#333', width: 1 } },
        axisTick: { customValues: [0, 1, 2, 3, 4, 5, 6, 7], length: 3, lineStyle: { color: '#333' } },
        axisLabel: { customValues: [0, 1, 2, 3, 4, 5, 6, 7], formatter: (v: number) => ridgeNames[v], color: '#222', fontSize: 10.8, fontStyle: 'italic', fontFamily: SANS, margin: 7 },
      },
      hiddenY(2, 0, 1, false),
      hiddenY(3, 0, 17.69),
      hiddenY(4, 0, 930),
    ],
    series,
    graphic,
  };
}

export default function App() {
  const ref = useRef<HTMLDivElement>(null);
  useEffect(() => {
    const chart = echarts.init(ref.current as HTMLDivElement, undefined, { renderer: 'svg' });
    chart.setOption(buildOption() as any);
    return () => chart.dispose();
  }, []);
  return <div ref={ref} style={{ position: 'absolute', left: 0, top: 0, width: 1281, height: 897 }} />;
}
